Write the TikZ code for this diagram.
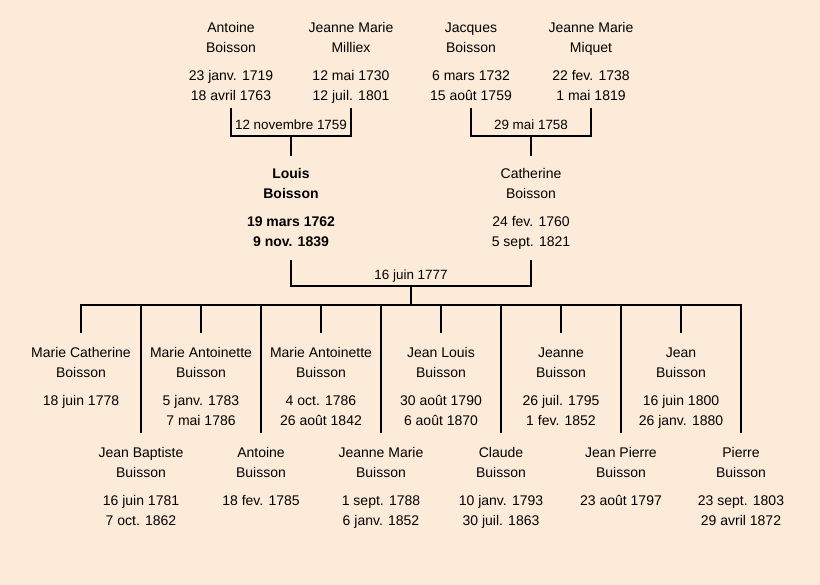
\documentclass[tikz,border=0pt]{standalone}
\usepackage{fontspec}
\setmainfont{Liberation Sans}
\definecolor{paper}{RGB}{252,235,217}
\newcommand\who[4]{\strut#1\\\strut#2\\[8pt]\strut#3\\\strut#4}
\tikzset{
	person/.style={align=center,inner xsep=0pt,inner ysep=#1,anchor=north,font=\fontsize{14}{20}\selectfont},
	person/.default=0pt,
	wedding/.style={anchor=base,inner sep=0pt,font=\fontsize{13.4}{20}\selectfont},
	link/.style={line width=2pt}
}
\begin{document}
\begin{tikzpicture}[x=1pt,y=-1pt]
	\fill[paper] (0,0) rectangle (820,585);
	\useasboundingbox (0,0) rectangle (820,585);
	% grandparents
	\node[person=1.5pt] (antoine) at (231,17) {\who{Antoine}{Boisson}{23 janv. 1719}{18 avril 1763}};
	\node[person=1.5pt] (milliex) at (351,17) {\who{Jeanne Marie}{Milliex}{12 mai 1730}{12 juil. 1801}};
	\node[person=1.5pt] (jacques) at (471,17) {\who{Jacques}{Boisson}{6 mars 1732}{15 août 1759}};
	\node[person=1.5pt] (miquet) at (591,17) {\who{Jeanne Marie}{Miquet}{22 fev. 1738}{1 mai 1819}};
	% parents
	\node[person=7.5pt,font=\fontsize{14}{20}\selectfont\bfseries] (louis) at (291,156.5) {\who{Louis}{Boisson}{19 mars 1762}{9 nov. 1839}};
	\node[person=7.5pt] (catherine) at (531,156.5) {\who{Catherine}{Boisson}{24 fev. 1760}{5 sept. 1821}};
	\coordinate (m1) at (291,136);
	\coordinate (m2) at (531,136);
	\coordinate (m3) at (411,286);
	\coordinate (sib) at (411,305);
	\node[wedding] (w1) at (291,130) {12 novembre 1759};
	\node[wedding] (w2) at (531,130) {29 mai 1758};
	\node[wedding] (w3) at (411,280) {16 juin 1777};
	\draw[link] (antoine.south) |- (m1) -| (milliex.south) (m1) -- (louis.north);
	\draw[link] (jacques.south) |- (m2) -| (miquet.south) (m2) -- (catherine.north);
	\draw[link] (louis.south) |- (m3) -| (catherine.south) (m3) -- (sib);
	% children
	\foreach \i/\fn/\ln/\da/\db in
	{1/Marie Catherine/Boisson/18 juin 1778/{},
	2/Jean Baptiste/Buisson/16 juin 1781/7 oct. 1862,
	3/Marie Antoinette/Buisson/5 janv. 1783/7 mai 1786,
	4/Antoine/Buisson/18 fev. 1785/{},
	5/Marie Antoinette/Buisson/4 oct. 1786/26 août 1842,
	6/Jeanne Marie/Buisson/1 sept. 1788/6 janv. 1852,
	7/Jean Louis/Buisson/30 août 1790/6 août 1870,
	8/Claude/Buisson/10 janv. 1793/30 juil. 1863,
	9/Jeanne/Buisson/26 juil. 1795/1 fev. 1852,
	10/Jean Pierre/Buisson/23 août 1797/{},
	11/Jean/Buisson/16 juin 1800/26 janv. 1880,
	12/Pierre/Buisson/23 sept. 1803/29 avril 1872}
	{\pgfmathsetmacro\cx{21+60*\i}
	\pgfmathsetmacro\cy{mod(\i,2)==1 ? 333 : 433}
	\node[person=10pt] (c\i) at (\cx,\cy) {\who{\fn}{\ln}{\da}{\db}};}
	\draw[link] (c1.north) -- (c1.north |- sib) -- (c12.north |- sib) -- (c12.north);
	\foreach \i in {2,...,11}
	\draw[link] (c\i.north) -- (c\i.north |- sib);
\end{tikzpicture}
\end{document}
